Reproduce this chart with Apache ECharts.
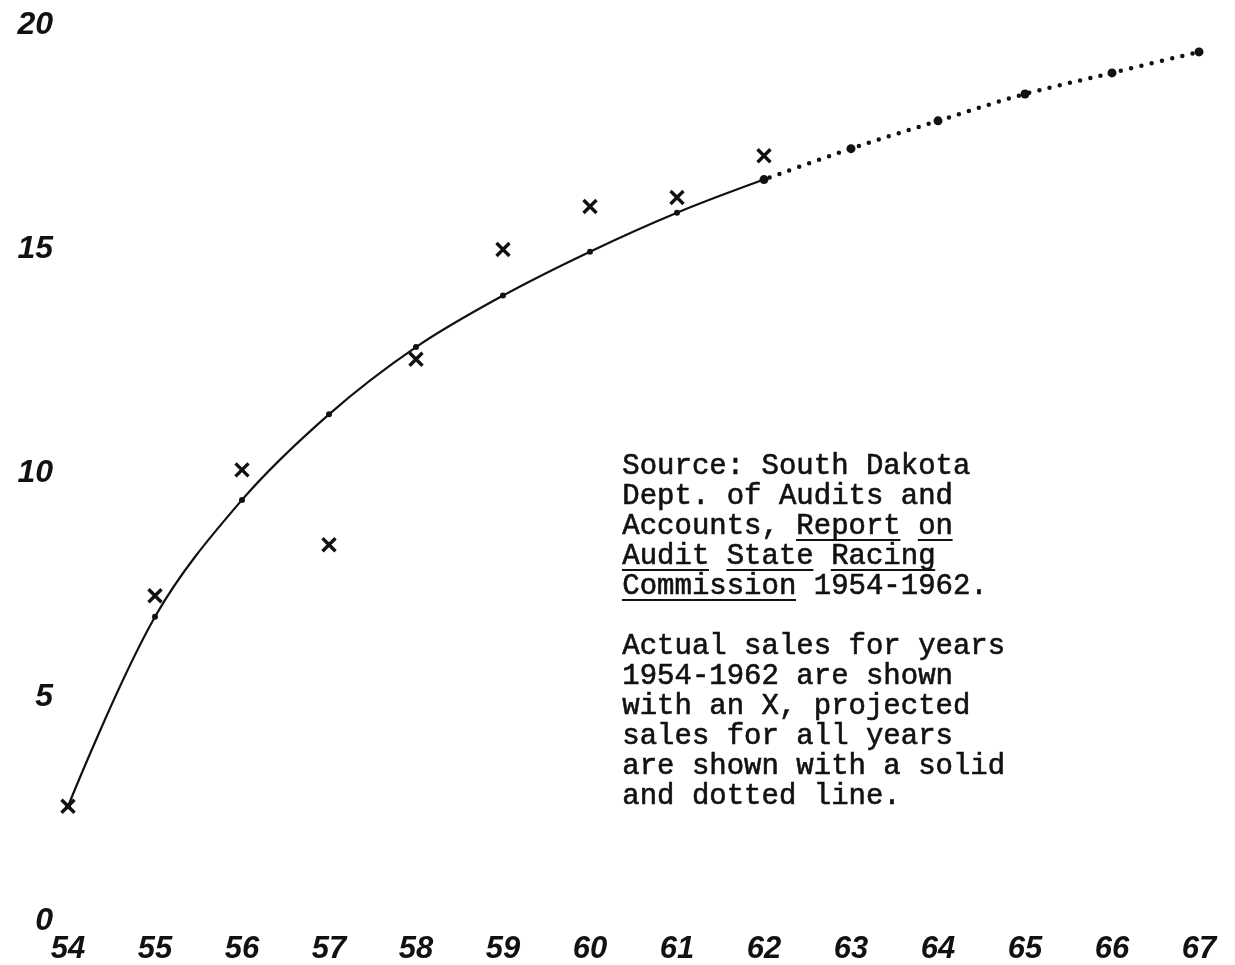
<!DOCTYPE html>
<html>
<head>
<meta charset="utf-8">
<style>
  html, body { margin: 0; padding: 0; background: #fff; }
  #chart { width: 1235px; height: 965px; }
</style>
<script src="https://cdn.jsdelivr.net/npm/echarts@6/dist/echarts.min.js"></script>
</head>
<body>
<div id="chart"></div>
<script>
// years on the x axis (19xx)
const years = ['54', '55', '56', '57', '58', '59', '60', '61', '62', '63', '64', '65', '66', '67'];
// projected sales, solid through 62 then dotted
const projected = [2.56, 6.79, 9.40, 11.31, 12.81, 13.96, 14.94, 15.81, 16.55, 17.24, 17.86, 18.46, 18.93, 19.40];
// actual sales 1954-1962 (the X marks)
const actual = [2.56, 7.26, 10.07, 8.40, 12.54, 14.99, 15.95, 16.15, 17.08];
const yTicks = [0, 5, 10, 15, 20];
const lastActual = 8; // index of '62'

const noteSource = [
  'Source: South Dakota',
  'Dept. of Audits and',
  'Accounts, Report on',
  'Audit State Racing',
  'Commission 1954-1962.'
];
const noteLegend = [
  'Actual sales for years',
  '1954-1962 are shown',
  'with an X, projected',
  'sales for all years',
  'are shown with a solid',
  'and dotted line.'
];
// underlined words: [line, first char, last char]
const underlined = [[2, 10, 15], [2, 17, 18], [3, 0, 4], [3, 6, 10], [3, 12, 17], [4, 0, 9]];

const ink = '#111';
const labelFont = {
  color: ink,
  fontFamily: 'Liberation Sans',
  fontStyle: 'italic',
  fontWeight: 'bold',
};

const chart = echarts.init(document.getElementById('chart'));

const noteX = 622;
const srcTop = 451;
const legTop = 631;
const lineH = 30;
const charW = 17.4;
const noteFont = '29px "Liberation Mono"';

const graphics = [
  {
    type: 'text', left: noteX, top: srcTop,
    style: { text: noteSource.join('\n'), fill: ink, font: noteFont, lineHeight: lineH, stroke: ink, lineWidth: 0.6 },
  },
  {
    type: 'text', left: noteX, top: legTop,
    style: { text: noteLegend.join('\n'), fill: ink, font: noteFont, lineHeight: lineH, stroke: ink, lineWidth: 0.6 },
  },
];
underlined.forEach(([ln, a, b]) => {
  const y = srcTop + ln * lineH + 29;
  graphics.push({
    type: 'line',
    shape: { x1: noteX + a * charW, y1: y, x2: noteX + (b + 1) * charW, y2: y },
    style: { stroke: ink, lineWidth: 2.2 },
  });
});

chart.setOption({
  backgroundColor: '#fff',
  animation: false,
  grid: { left: 68, right: 36, top: 25, bottom: 42 },
  xAxis: {
    type: 'category',
    data: years,
    boundaryGap: false,
    axisLine: { show: false },
    axisTick: { show: false },
    splitLine: { show: false },
    axisLabel: Object.assign({ fontSize: 31, margin: 13 }, labelFont),
  },
  yAxis: {
    type: 'value',
    min: yTicks[0],
    max: yTicks[yTicks.length - 1],
    interval: 5,
    axisLine: { show: false },
    axisTick: { show: false },
    splitLine: { show: false },
    axisLabel: Object.assign({ fontSize: 32, margin: 15 }, labelFont),
  },
  series: [
    {
      name: 'projected',
      type: 'line',
      smooth: 0.35,
      data: projected.map((v, i) => (i <= lastActual ? v : '-')),
      symbol: 'circle',
      symbolSize: 6,
      itemStyle: { color: ink },
      lineStyle: { color: ink, width: 2.2 },
      z: 2,
    },
    {
      name: 'projected (dotted)',
      type: 'line',
      smooth: 0.35,
      data: projected.map((v, i) => (i >= lastActual ? v : '-')),
      symbol: 'circle',
      symbolSize: 9,
      itemStyle: { color: ink },
      lineStyle: { color: ink, width: 4.5, type: [0, 10.5], cap: 'round', dashOffset: -6 },
      z: 2,
    },
    {
      name: 'actual',
      type: 'scatter',
      data: actual,
      symbol: 'path://M0,0 L10,10 M10,0 L0,10',
      symbolSize: 13,
      itemStyle: { color: 'rgba(0,0,0,0)', borderColor: ink, borderWidth: 3.4, opacity: 1 },
      z: 3,
    },
  ],
  graphic: graphics,
});
</script>
</body>
</html>
